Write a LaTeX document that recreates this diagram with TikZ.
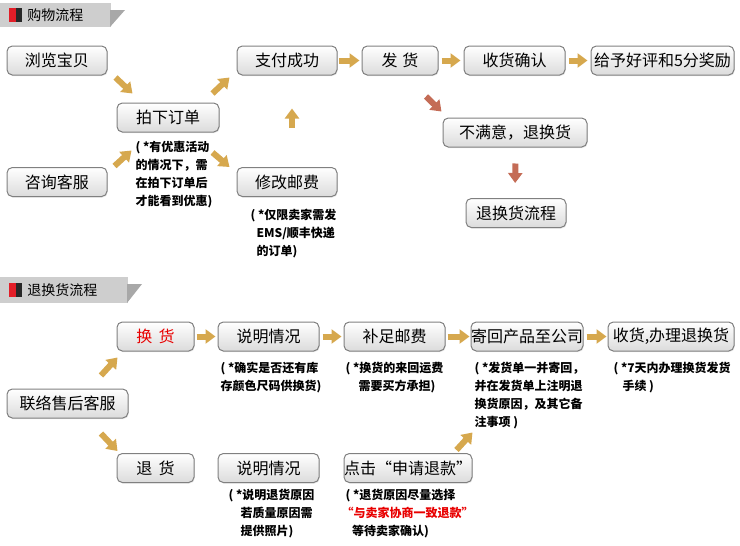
\documentclass[tikz,border=0pt]{standalone}
\usepackage{fontspec}
\setmainfont{Noto Sans CJK SC}
\usetikzlibrary{arrows.meta,shadows}

\definecolor{arrgold}{RGB}{214,168,78}
\definecolor{arrred}{RGB}{196,108,86}
\definecolor{boxline}{RGB}{128,128,128}
\definecolor{hdrgrey}{RGB}{206,206,206}
\definecolor{hdrdark}{RGB}{168,168,168}
\definecolor{hdrred}{RGB}{226,30,40}
\definecolor{hdrblack}{RGB}{40,40,40}
\definecolor{notered}{RGB}{232,0,0}

\tikzset{every picture/.style={line width=0.75pt}}
\tikzset{
	box/.style={draw=boxline, rounded corners=4pt, top color=white, bottom color=gray!28,
		drop shadow={opacity=0.18, shadow xshift=0.6pt, shadow yshift=-0.8pt},
		inner sep=0pt, minimum height=21.75pt, font=\fontsize{12}{13}\selectfont},
	note/.style={anchor=north west, inner sep=0pt, align=left,
		font=\fontsize{9}{13.5}\selectfont\bfseries},
	goldarr/.style={draw=arrgold, line width=4.5pt, -{Triangle[length=7.5pt,width=10.5pt]}},
	redarr/.style={draw=arrred, line width=4.5pt, -{Triangle[length=7.5pt,width=10.5pt]}},
	hdrtext/.style={anchor=west, inner sep=0pt, font=\fontsize{10.5}{12}\selectfont}
}

\begin{document}
\begin{tikzpicture}[x=0.75pt,y=0.75pt,yscale=-1,xscale=1]
	\useasboundingbox (0,0) rectangle (740,546);

	%Shape: header band 1
	\fill[hdrgrey] (0,3) rectangle (111,27);
	\fill[hdrdark] (110,10) -- (125,10) -- (110,27) -- cycle;
	\fill[hdrred] (9,8) rectangle (16,22);
	\fill[hdrblack] (16,8) rectangle (22,22);
	% Text Node
	\node[hdrtext] (hdrbuy) at (27,15) {购物流程};

	%Shape: header band 2
	\fill[hdrgrey] (0,277) rectangle (128,303);
	\fill[hdrdark] (127,284) -- (142,284) -- (127,303) -- cycle;
	\fill[hdrred] (9,283) rectangle (16,297);
	\fill[hdrblack] (16,283) rectangle (22,297);
	% Text Node
	\node[hdrtext] (hdrret) at (27,290) {退换货流程};

	% boxes, buying
	\node[box, minimum width=75pt] (liulan) at (57,60.5) {浏览宝贝};
	\node[box, minimum width=75pt] (zixun) at (57,182) {咨询客服};
	\node[box, minimum width=76.5pt] (paixia) at (168,117.5) {拍下订单};
	\node[box, minimum width=75pt] (zhifu) at (287,60.5) {支付成功};
	\node[box, minimum width=75pt] (xiugai) at (287,182) {修改邮费};
	\node[box, minimum width=57pt] (fahuo) at (400,60.5) {发\hspace{0.3em}货};
	\node[box, minimum width=75.75pt] (shouhuo) at (514.5,60.5) {收货确认};
	\node[box, minimum width=107.25pt] (haoping) at (662.5,60.5) {给予好评和5分奖励};
	\node[box, minimum width=108pt] (buman) at (515,132.5) {不满意，退换货};
	\node[box, minimum width=75pt] (tuihuanliu) at (516,213) {退换货流程};

	% boxes, returns
	\node[box, minimum width=90.75pt] (lianluo) at (67.5,403.5) {联络售后客服};
	\node[box, minimum width=57.75pt, text=notered] (huanhuo) at (155.5,336.5) {换\hspace{0.4em}货};
	\node[box, minimum width=75.75pt] (shuoming) at (268.5,336.5) {说明情况};
	\node[box, minimum width=75.75pt] (buzu) at (394.5,336.5) {补足邮费};
	\node[box, minimum width=84pt] (jihui) at (527,336.5) {寄回产品至公司};
	\node[box, minimum width=94.5pt] (shouban) at (671,336.5) {收货,办理退换货};
	\node[box, minimum width=57.75pt] (tuihuo) at (155.5,468) {退\hspace{0.4em}货};
	\node[box, minimum width=75.75pt] (shuomingb) at (268.5,468) {说明情况};
	\node[box, minimum width=96pt] (dianji) at (408,468) {点击“申请退款”};

	% notes
	\node[note] (notepai) at (135,141) {( *有优惠活动\\的情况下，需\\在拍下订单后\\才能看到优惠)};
	\node[note] (notexiu) at (250,209) {( *仅限卖家需发\\\hspace*{4.5pt}EMS/顺丰快递\\\hspace*{4.5pt}的订单)};
	\node[note] (noteshuo) at (220,362) {( *确实是否还有库\\存颜色尺码供换货)};
	\node[note] (notebuzu) at (345,362) {( *换货的来回运费\\\hspace*{9.75pt}需要买方承担)};
	\node[note] (notejihui) at (474,362) {( *发货单一并寄回，\\并在发货单上注明退\\换货原因，及其它备\\注事项 )};
	\node[note] (noteshou) at (613,362) {( *7天内办理换货发货\\\hspace*{6.75pt}手续 )};
	\node[note] (noteshuob) at (228,489) {( *说明退货原因\\\hspace*{9pt}若质量原因需\\\hspace*{9pt}提供照片)};
	\node[note] (notedian) at (345,489) {( *退货原因尽量选择\\\hspace*{-3pt}\textcolor{notered}{“与卖家协商一致退款”}\\\hspace*{5pt}等待卖家确认)};

	% arrows, buying
	\draw[goldarr] ([xshift=6pt,yshift=1.5pt]liulan.south east) -- ([xshift=12pt,yshift=-6.75pt]paixia.north west);
	\draw[goldarr] ([xshift=5.25pt,yshift=-0.75pt]zixun.north east) -- ([xshift=11.25pt,yshift=13.5pt]paixia.south west);
	\draw[goldarr] ([xshift=-5.25pt,yshift=-6.75pt]paixia.north east) -- ([xshift=-5.25pt,yshift=1.5pt]zhifu.south west);
	\draw[goldarr] ([xshift=-5.25pt,yshift=15pt]paixia.south east) -- ([xshift=-5.25pt]xiugai.north west);
	\draw[goldarr, shorten <=29.25pt, shorten >=24.75pt] ([xshift=3.75pt]xiugai.north) -- ([xshift=3.75pt]zhifu.south);
	\draw[goldarr, shorten <=1pt, shorten >=1.5pt] (zhifu) -- (fahuo);
	\draw[goldarr, shorten <=2.25pt, shorten >=2.25pt] (fahuo) -- (shouhuo);
	\draw[goldarr, shorten <=2.25pt, shorten >=2.25pt] (shouhuo) -- (haoping);
	\draw[redarr] ([xshift=19.5pt,yshift=15.75pt]fahuo.south) -- ([xshift=-0.75pt,yshift=-4.5pt]buman.north west);
	\draw[redarr, shorten <=12pt, shorten >=11.25pt] ([xshift=0.4pt]buman.south) -- (buman.south |- tuihuanliu.north);

	% arrows, returns
	\draw[goldarr] ([xshift=25.1pt,yshift=-9.75pt]lianluo.north) -- ([xshift=0.75pt,yshift=4.5pt]huanhuo.south west);
	\draw[goldarr] ([xshift=25.1pt,yshift=11.25pt]lianluo.south) -- ([xshift=0.75pt,yshift=-1.5pt]tuihuo.north west);
	\draw[goldarr, shorten <=1.5pt, shorten >=1.5pt] (huanhuo) -- (shuoming);
	\draw[goldarr, shorten <=2.25pt, shorten >=1.5pt] (shuoming) -- (buzu);
	\draw[goldarr, shorten <=1.5pt, shorten >=0.75pt] (buzu) -- (jihui);
	\draw[goldarr, shorten <=2.25pt, shorten >=0.75pt] (jihui) -- (shouban);
	\draw[goldarr] ([xshift=-12pt,yshift=-2.25pt]dianji.north east) -- ([xshift=1.5pt,yshift=60.75pt]jihui.south west);

\end{tikzpicture}
\end{document}
